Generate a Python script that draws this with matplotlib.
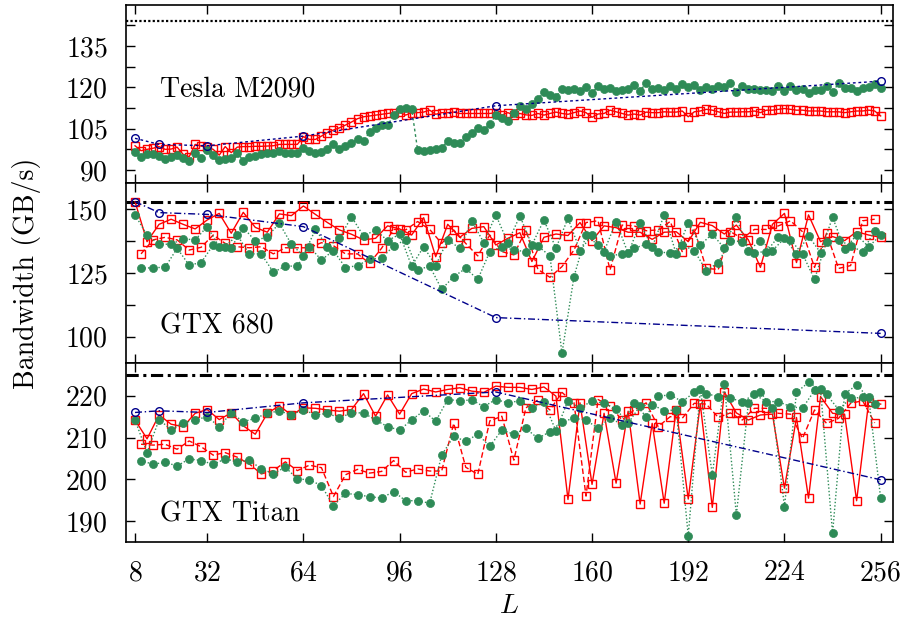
import numpy as np
import matplotlib.pyplot as plt

plt.rcParams['font.family'] = 'cmr10'
plt.rcParams['mathtext.fontset'] = 'cm'
plt.rcParams['axes.formatter.use_mathtext'] = True

# x positions
L_blue = [8, 16, 32, 64, 128, 256]
L_top = np.arange(8, 257, 2)
L_a = np.arange(8, 257, 4)
L_b = np.arange(10, 255, 4)
x_ticks = [8, 32, 64, 96, 128, 160, 192, 224, 256]

# Tesla M2090
tesla_peak = 144.0
tesla_blue = [101.5, 99.3, 98.8, 102.3, 113.3, 122.2]
tesla_red = [98.8, 97.0, 97.5, 97.9, 98.5, 97.5, 97.6, 98.3, 95.7, 94.8, 99.3, 98.7,
             98.2, 97.5, 95.4, 98.5, 96.3, 98.3, 98.5, 98.5, 98.6, 98.6, 98.7, 98.8,
             99.3, 99.3, 99.3, 99.3, 102.1, 101.1, 101.1, 102.3, 103.6, 104.5, 105.3, 106.3,
             107.4, 108.6, 109.3, 109.6, 109.9, 110.2, 110.5, 110.8, 111.0, 109.9, 110.8, 110.8,
             111.0, 111.7, 110.2, 110.8, 110.8, 111.0, 110.5, 110.5, 110.5, 110.5, 110.5, 110.5,
             110.8,
             109.9, 110.8, 109.9, 110.5, 110.0, 109.8, 110.5, 109.9, 110.5, 111.0, 110.5, 110.2,
             110.8, 111.4, 110.8, 109.1, 110.3, 110.5, 111.7, 111.1, 110.5, 109.9, 110.3, 109.9,
             111.0, 110.8, 110.8, 111.1, 111.0, 111.0, 111.4, 109.3, 111.1, 111.4, 112.0, 111.7,
             111.1, 110.5, 111.0, 111.0, 111.1, 111.1, 111.4, 110.8, 111.7, 111.7, 112.0, 112.3,
             112.0, 111.7, 111.7, 111.4, 111.4, 111.4, 111.1, 111.1, 111.1, 110.8, 111.1, 111.4,
             111.4, 111.7, 111.4, 109.6]
tesla_green = [96.6, 94.8, 95.7, 95.7, 95.1, 93.9, 94.8, 95.4, 94.2, 93.3, 96.3, 94.5,
               97.2, 95.4, 93.6, 93.9, 94.2, 96.3, 93.4, 94.6, 95.2, 95.8, 96.0, 96.0,
               97.0, 96.3, 96.0, 96.0, 97.9, 97.0, 96.0, 96.6, 97.5, 99.4, 97.6, 98.8,
               99.9, 101.1, 100.5, 103.8, 105.3, 106.5, 106.2, 109.9, 112.0, 112.6, 112.3, 97.2,
               96.9, 97.2, 97.6, 98.1, 100.5, 99.9, 99.7, 101.8, 103.5, 105.1, 104.5, 106.7,
               109.8,
               108.7, 107.8, 110.8, 113.2, 112.3, 113.8, 115.8, 118.4, 117.2, 116.6, 119.2, 119.0,
               119.2, 118.7, 120.0, 118.0, 120.4, 119.2, 119.6, 118.7, 119.0, 119.3, 120.8, 118.7,
               121.6, 119.2, 119.6, 119.0, 120.6, 119.2, 121.2, 120.0, 120.8, 119.0, 120.0, 119.5,
               120.4, 120.2, 121.6, 118.4, 120.6, 119.2, 119.5, 119.0, 119.0, 118.6, 120.6, 118.7,
               120.4, 119.0, 119.2, 118.0, 119.0, 119.0, 120.4, 118.3, 121.4, 119.6, 119.6, 118.7,
               119.6, 120.0, 121.2, 119.6]

# GTX 680
gtx680_peak = 153.0
gtx680_blue = [153.0, 148.7, 148.0, 143.2, 107.5, 101.3]
gtx680_red_a = [153.0, 137.3, 144.1, 146.1, 144.1, 142.3, 145.8, 148.4, 140.6, 148.8, 142.9,
                141.0, 148.2, 147.5, 151.3, 148.0, 144.8, 141.9, 140.2, 138.0, 138.6, 143.5,
                142.3, 139.9, 146.7, 131.4, 144.1, 139.0, 142.5, 143.2, 136.0,
                138.6, 140.8, 129.5, 139.0, 140.3, 139.7, 144.8, 137.7, 143.5, 142.8, 141.0,
                141.0, 138.2, 141.0, 141.2, 137.3, 144.9, 143.6, 140.3, 143.8, 138.0, 127.2,
                144.1, 148.4, 129.1, 147.8, 137.3, 139.3, 137.7, 141.2, 139.9, 139.0]
gtx680_red_b = [132.5, 138.0, 139.0, 138.0, 134.0, 135.1, 139.9, 136.6, 135.3, 134.9, 135.3,
                132.5, 134.9, 134.9, 134.9, 136.9, 135.7, 132.5, 132.5, 128.8, 134.7, 142.1,
                141.9, 145.2, 142.1, 136.6, 141.9, 136.6, 131.7, 139.9,
                133.4, 132.1, 141.9, 126.4, 123.3, 127.5, 134.0, 144.8, 145.5, 126.2, 143.8,
                143.5, 141.6, 141.9, 145.2, 133.4, 142.1, 126.8, 126.4, 141.2, 138.6, 142.1,
                142.1, 143.5, 145.5, 141.2, 127.2, 140.6, 126.8, 127.9, 145.5, 146.1]
gtx680_green_a = [147.8, 139.9, 136.3, 136.3, 138.4, 138.0, 143.2, 135.3, 134.9, 142.8, 137.6,
                  139.3, 144.5, 136.3, 131.7, 142.1, 135.3, 138.6, 147.1, 139.5, 141.9, 137.7,
                  140.2, 127.7, 135.3, 127.9, 138.0, 134.7, 145.4, 136.9, 147.8,
                  136.9, 147.4, 136.0, 145.8, 134.7, 146.5, 133.8, 139.9, 133.4, 145.2, 132.7,
                  144.5, 135.1, 147.8, 132.5, 144.8, 136.0, 140.3, 134.7, 146.9, 133.8, 137.7,
                  133.8, 138.6, 132.5, 139.5, 133.0, 146.9, 134.3, 139.9, 135.3, 139.9]
gtx680_green_b = [126.8, 127.1, 127.2, 134.7, 128.1, 129.1, 136.0, 135.3, 139.9, 132.5, 132.5,
                  125.3, 127.7, 127.7, 135.3, 130.1, 133.8, 127.1, 127.9, 130.4, 130.8, 135.6,
                  138.0, 126.2, 127.7, 118.6, 123.6, 126.8, 122.5, 133.4,
                  135.3, 134.0, 133.4, 135.6, 131.7, 93.5, 123.6, 139.9, 136.0, 131.7, 132.5,
                  134.7, 136.3, 133.4, 132.7, 136.0, 133.8, 125.9, 129.1, 137.7, 137.3, 133.0,
                  133.4, 139.3, 138.0, 132.5, 122.5, 137.3, 138.0, 135.6, 133.4, 141.6]

# GTX Titan
titan_peak = 224.9
titan_blue = [216.0, 216.4, 216.0, 218.3, 220.9, 199.9]
titan_red_a = [214.2, 209.7, 215.4, 213.2, 212.6, 215.8, 216.7, 214.3, 215.9, 212.8, 210.8,
               215.8, 217.6, 215.4, 217.1, 217.0, 216.6, 216.3, 216.7, 220.5, 215.1, 220.2,
               215.6, 220.5, 221.6, 220.9, 221.5, 221.9, 221.1, 220.8, 222.3,
               222.0, 222.0, 221.5, 222.1, 219.9, 195.2, 218.3, 198.8, 215.8, 199.1, 216.3,
               194.1, 213.4, 194.3, 216.7, 195.3, 218.0, 193.3, 220.9, 215.9, 214.2, 215.4,
               215.6, 197.9, 214.8, 195.5, 219.8, 215.8, 215.6, 194.9, 218.5, 218.0]
titan_red_b = [208.4, 208.2, 208.4, 207.2, 209.2, 207.8, 205.8, 206.4, 205.3, 203.7, 201.3,
               202.1, 204.2, 202.1, 203.4, 202.8, 195.9, 201.1, 202.4, 201.5, 201.9, 204.5,
               201.7, 202.5, 202.0, 202.0, 213.4, 202.9, 201.2, 214.0,
               215.1, 204.6, 217.1, 219.0, 216.6, 220.8, 218.3, 196.0, 219.1, 217.5, 214.2,
               216.6, 218.3, 212.6, 215.0, 214.6, 218.2, 218.0, 214.8, 215.9, 214.2, 217.0,
               217.0, 215.8, 215.6, 209.8, 216.6, 213.4, 214.6, 218.2, 218.8, 213.5]
titan_green_a = [214.2, 206.4, 214.3, 211.9, 213.5, 214.2, 215.0, 212.6, 215.9, 213.8, 214.6,
                 215.8, 216.4, 215.4, 216.7, 215.4, 215.8, 214.7, 215.9, 215.9, 214.2, 212.6,
                 211.8, 214.2, 216.4, 213.9, 219.1, 218.8, 219.0, 217.4, 219.1,
                 218.3, 218.8, 217.1, 218.4, 211.6, 218.8, 217.0, 218.8, 218.2, 216.8, 213.4,
                 217.6, 217.9, 216.4, 216.6, 186.5, 221.5, 201.1, 222.9, 191.5, 218.2, 220.9,
                 217.0, 193.5, 220.8, 223.2, 221.5, 187.1, 220.5, 222.5, 219.6, 195.5]
titan_green_b = [204.5, 203.6, 204.1, 203.2, 204.9, 204.5, 203.6, 204.9, 204.2, 204.6, 202.5,
                 201.4, 202.9, 200.1, 199.9, 198.5, 193.7, 196.7, 196.3, 195.9, 195.5, 197.1,
                 194.9, 194.9, 194.3, 205.8, 210.3, 209.1, 210.8, 207.9,
                 211.8, 210.8, 212.2, 209.8, 211.4, 213.8, 214.6, 214.2, 212.2, 214.7, 213.1,
                 218.3, 215.0, 219.9, 220.2, 218.6, 220.8, 220.5, 219.8, 219.4, 218.6, 220.3,
                 218.6, 218.6, 217.4, 217.0, 221.3, 220.3, 216.7, 219.4, 219.6, 218.0]

RED = '#ff0000'
GREEN = '#2e8b57'
BLUE = '#00008b'
FS = 20

fig = plt.figure(figsize=(9.04, 6.26), dpi=100)
left, width = 126 / 904, 766.7 / 904
ax_top = fig.add_axes([left, 1 - 183.3 / 626, width, 178.3 / 626])
ax_mid = fig.add_axes([left, 1 - 362.7 / 626, width, 179.4 / 626])
ax_bot = fig.add_axes([left, 1 - 541.7 / 626, width, 179.0 / 626])

sq = dict(marker='s', ms=6.3, mfc='none', mec=RED, mew=1.0, color=RED, lw=1.0)
gc = dict(marker='o', ms=5.8, mfc=GREEN, mec=GREEN, mew=0.5, color=GREEN, lw=1.0)
bc = dict(marker='o', ms=5.5, mfc='none', mec=BLUE, mew=1.0, color=BLUE, lw=1.0)

# top panel
ax = ax_top
ax.axhline(tesla_peak, color='black', lw=1.6, ls=(0, (1, 1)))
ax.plot(L_top, tesla_red, ls='-', **sq)
ax.plot(L_top, tesla_green, ls=(0, (2, 2)), **gc)
ax.plot(L_blue, tesla_blue, ls=(0, (2, 2)), **bc)
ax.set_ylim(85.2, 149.8)
ax.set_yticks([90, 105, 120, 135])
ax.set_yticks([97.5, 112.5, 127.5, 142.5], minor=True)
ax.text(16.3, 116.6, 'Tesla M2090', fontsize=FS, va='baseline', ha='left')

# middle and bottom panels
panels = [
    (ax_mid, gtx680_peak, gtx680_blue, gtx680_red_a, gtx680_red_b,
     gtx680_green_a, gtx680_green_b, 'GTX 680', 101.3),
    (ax_bot, titan_peak, titan_blue, titan_red_a, titan_red_b,
     titan_green_a, titan_green_b, 'GTX Titan', 189.9),
]
for ax, peak, blue, ra, rb, ga, gb, name, ty in panels:
    ax.axhline(peak, color='black', lw=2.2, ls=(0, (4, 1.5, 1, 1.5)))
    ax.plot(L_a, ra, ls='-', **sq)
    ax.plot(L_b, rb, ls=(0, (4, 2)), **sq)
    ax.plot(L_a, ga, ls=(0, (1, 1.5)), **gc)
    ax.plot(L_b, gb, ls=(0, (1, 1.5)), **gc)
    ax.plot(L_blue, blue, ls=(0, (5, 2, 1, 2)), **bc)
    ax.text(16.3, ty, name, fontsize=FS, va='baseline', ha='left')

ax_mid.set_ylim(89.8, 160.2)
ax_mid.set_yticks([100, 125, 150])
ax_mid.set_yticks([112.5, 137.5], minor=True)
ax_bot.set_ylim(185.1, 227.9)
ax_bot.set_yticks([190, 200, 210, 220])

for ax in (ax_top, ax_mid, ax_bot):
    ax.set_xlim(5, 260)
    ax.set_xticks(x_ticks)
    ax.tick_params(which='both', direction='in', top=True, right=True,
                   length=6.5, width=1.0, labelsize=FS, pad=13)
    for s in ax.spines.values():
        s.set_linewidth(1.2)
    if ax is not ax_bot:
        ax.tick_params(labelbottom=False)

fig.text(27 / 904, 1 - 273 / 626, 'Bandwidth (GB/s)', rotation=90,
         ha='center', va='center', fontsize=FS)
fig.text(509 / 904, 1 - 606 / 626, '$L$', ha='center', va='center', fontsize=FS)

fig.savefig('out.png', dpi=100)
